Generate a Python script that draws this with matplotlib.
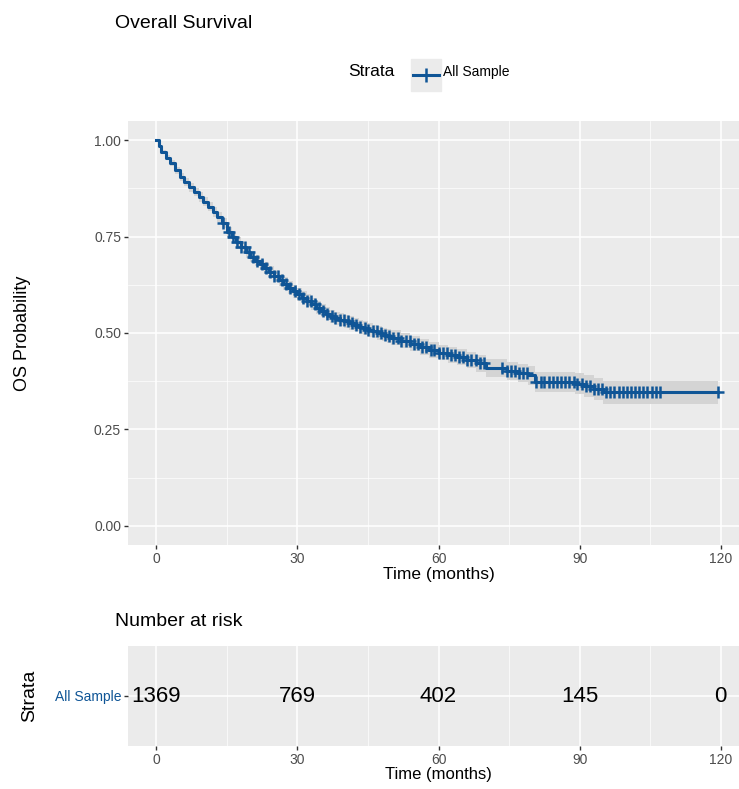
import numpy as np
import matplotlib.pyplot as plt

plt.rcParams['font.family'] = ['Liberation Sans', 'DejaVu Sans']

# --- dados ---
tempo = [0, 0.5, 1, 2, 3, 4, 5, 6, 7, 8, 9, 10, 11, 12, 13, 14, 15, 16, 17, 18,
         19, 20, 21, 22, 23, 24, 25, 26, 27, 28, 29, 30, 31, 32, 33, 34, 35, 36,
         37, 38, 39, 40, 41, 42, 43, 44, 45, 46, 47, 48, 49, 50, 52, 54, 56, 58,
         60, 62, 64, 66, 68, 70, 74.5, 77, 79, 80.5, 89, 91, 93, 95, 119.5]
sobrevida = [1.0, 0.985, 0.97, 0.955, 0.94, 0.922, 0.905, 0.892, 0.878, 0.866,
             0.853, 0.841, 0.828, 0.815, 0.802, 0.785, 0.762, 0.748, 0.735, 0.722,
             0.709, 0.697, 0.688, 0.678, 0.668, 0.658, 0.648, 0.638, 0.628, 0.618,
             0.608, 0.600, 0.592, 0.584, 0.575, 0.566, 0.558, 0.550, 0.543, 0.538,
             0.534, 0.530, 0.526, 0.521, 0.516, 0.512, 0.508, 0.504, 0.500, 0.496,
             0.492, 0.488, 0.480, 0.472, 0.464, 0.456, 0.449, 0.443, 0.437, 0.430,
             0.421, 0.410, 0.402, 0.396, 0.390, 0.373, 0.368, 0.362, 0.355, 0.346,
             0.346]
ic_meia = [0.0, 0.005, 0.006, 0.007, 0.008, 0.009, 0.010, 0.010, 0.011, 0.011,
           0.012, 0.012, 0.012, 0.013, 0.013, 0.013, 0.014, 0.014, 0.014, 0.014,
           0.014, 0.014, 0.015, 0.015, 0.015, 0.015, 0.015, 0.015, 0.016, 0.016,
           0.016, 0.016, 0.016, 0.016, 0.016, 0.017, 0.017, 0.017, 0.017, 0.017,
           0.017, 0.017, 0.017, 0.017, 0.018, 0.018, 0.018, 0.018, 0.018, 0.018,
           0.018, 0.019, 0.019, 0.019, 0.020, 0.020, 0.020, 0.021, 0.021, 0.022,
           0.022, 0.023, 0.024, 0.024, 0.025, 0.026, 0.027, 0.028, 0.029, 0.030,
           0.030]

censuras = [14.2, 15.5, 16.3, 17.1, 18.0, 18.9, 19.8, 20.6, 21.5, 22.4, 23.3,
            24.1, 25.0, 25.9, 26.8, 27.6, 28.5, 29.4, 30.3, 31.1, 32.0, 32.9,
            33.8, 34.6, 35.5, 36.4, 37.3, 38.1, 39.0, 39.9, 40.8, 41.6, 42.5,
            43.4, 44.3, 45.1, 46.0, 46.9, 47.8, 48.6, 49.5, 50.4, 51.3, 52.1,
            53.0, 53.9, 54.8, 55.6, 56.5, 57.4, 58.3, 59.1, 60.0, 60.9, 61.8,
            62.6, 63.5, 64.4, 65.3, 66.1, 67.0, 67.9, 68.8, 69.6, 73.6, 74.5,
            75.4, 76.2, 77.1, 78.0, 78.9, 80.8, 81.7, 82.5, 83.4, 84.3, 85.2,
            86.0, 86.9, 87.8, 88.7, 89.5, 90.4, 91.3, 92.2, 93.0, 93.9, 94.8,
            95.7, 96.5, 97.4, 98.3, 99.2, 100.0, 100.9, 101.8, 102.7, 103.5,
            104.4, 105.3, 106.2, 107.0, 119.5]

risco_tempos = [0, 30, 60, 90, 120]
risco_n = [1369, 769, 402, 145, 0]
eixo_x = [0, 30, 60, 90, 120]
eixo_y = [0.00, 0.25, 0.50, 0.75, 1.00]

azul = '#0f5596'
fundo = '#ebebeb'
W, H = 739, 789

fig = plt.figure(figsize=(W / 100, H / 100), dpi=100)

def estilo(ax):
    ax.set_facecolor(fundo)
    for s in ax.spines.values():
        s.set_visible(False)
    ax.grid(True, which='major', color='white', linewidth=1.1)
    ax.grid(True, which='minor', color='white', linewidth=0.5)
    ax.set_axisbelow(True)
    ax.tick_params(which='major', length=3, width=1, color='#333333',
                   labelcolor='#4d4d4d', labelsize=10, pad=2)
    ax.tick_params(which='minor', length=0)

# --- curva de sobrevida ---
ax = fig.add_axes([128 / W, 1 - 545 / H, 621 / W, 424 / H])
estilo(ax)
t = np.array(tempo)
s = np.array(sobrevida)
m = np.array(ic_meia)
ax.fill_between(t, s - m, s + m, step='post', color='#d4d4d4', lw=0)
ax.step(t, s, where='post', color=azul, lw=2.2)
idx = np.searchsorted(t, censuras, side='right') - 1
ax.plot(censuras, s[idx], ls='none', marker='+', ms=9, mew=1.8, color=azul)

ax.set_xlim(-6, 126)
ax.set_ylim(-0.05, 1.05)
ax.set_xticks(eixo_x)
ax.set_xticks([15, 45, 75, 105], minor=True)
ax.set_yticks(eixo_y)
ax.set_yticks([0.125, 0.375, 0.625, 0.875], minor=True)
ax.set_yticklabels(['%.2f' % v for v in eixo_y])
ax.set_xlabel('Time (months)', fontsize=12.5, labelpad=1)
ax.set_ylabel('OS Probability', fontsize=13, labelpad=45)

fig.text(115 / W, 1 - 23 / H, 'Overall Survival', fontsize=14, va='center')

# legenda
fig.text(348 / W, 1 - 72 / H, 'Strata', fontsize=12.5, va='center')
fig.patches.append(plt.Rectangle((411 / W, 1 - 91 / H), 30 / W, 32 / H,
                                 transform=fig.transFigure, color=fundo))
fig.lines.append(plt.Line2D([413 / W, 439 / W], [1 - 75 / H, 1 - 75 / H],
                            transform=fig.transFigure, color=azul, lw=2.2))
fig.lines.append(plt.Line2D([426 / W], [1 - 75 / H], transform=fig.transFigure,
                            marker='+', ms=10, mew=1.8, color=azul))
fig.text(443 / W, 1 - 72 / H, 'All Sample', fontsize=10, va='center')

# --- tabela de número em risco ---
ax2 = fig.add_axes([128 / W, 1 - 746 / H, 621 / W, 100 / H])
estilo(ax2)
ax2.set_xlim(-6, 126)
ax2.set_ylim(0.4, 1.6)
ax2.set_xticks(eixo_x)
ax2.set_xticks([15, 45, 75, 105], minor=True)
ax2.set_yticks([1])
ax2.set_yticklabels(['All Sample'], color=azul, fontsize=10)
for x, n in zip(risco_tempos, risco_n):
    ax2.text(x, 1, str(n), fontsize=16, ha='center', va='center')
ax2.set_xlabel('Time (months)', fontsize=12, labelpad=0)
ax2.set_ylabel('Strata', fontsize=14, labelpad=12)
fig.text(115 / W, 1 - 622 / H, 'Number at risk', fontsize=14, va='center')

fig.savefig('out.png', dpi=100)
